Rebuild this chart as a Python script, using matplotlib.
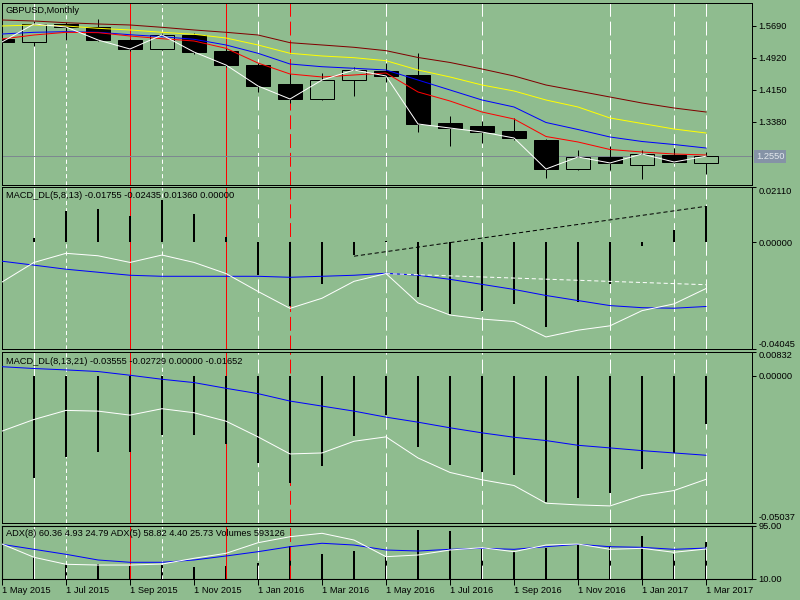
import matplotlib
matplotlib.use("Agg")
import matplotlib.pyplot as plt
from matplotlib.patches import Rectangle
import numpy as np

plt.rcParams['font.family'] = ['Liberation Sans', 'DejaVu Sans']
plt.rcParams['font.size'] = 6.7
plt.rcParams['lines.scale_dashes'] = False

BG = '#8fbc8f'
PX = 0.72  # one screen pixel in points

# monthly bars, 1 May 2015 .. 1 Mar 2017
months = ["1 May 2015", "1 Jun 2015", "1 Jul 2015", "1 Aug 2015", "1 Sep 2015", "1 Oct 2015",
          "1 Nov 2015", "1 Dec 2015", "1 Jan 2016", "1 Feb 2016", "1 Mar 2016", "1 Apr 2016",
          "1 May 2016", "1 Jun 2016", "1 Jul 2016", "1 Aug 2016", "1 Sep 2016", "1 Oct 2016",
          "1 Nov 2016", "1 Dec 2016", "1 Jan 2017", "1 Feb 2017", "1 Mar 2017"]

opens = [1.5370, 1.5298, 1.5731, 1.5659, 1.5346, 1.5129, 1.5466, 1.5081, 1.4744, 1.4287, 1.3926, 1.4383,
         1.4600, 1.4504, 1.3349, 1.3277, 1.3156, 1.2940, 1.2242, 1.2531, 1.2338, 1.2579, 1.2387]
highs = [1.5450, 1.5800, 1.5779, 1.5851, 1.5380, 1.5514, 1.5514, 1.5150, 1.4792, 1.4550, 1.4552, 1.4696,
         1.4792, 1.5033, 1.3517, 1.3385, 1.3469, 1.2964, 1.2699, 1.2795, 1.2699, 1.2747, 1.2651]
lows = [1.5250, 1.5200, 1.5346, 1.5330, 1.5090, 1.5105, 1.5009, 1.4700, 1.4095, 1.3830, 1.3902, 1.3998,
        1.4335, 1.3132, 1.2795, 1.2867, 1.2940, 1.2025, 1.2218, 1.2218, 1.2001, 1.2380, 1.2122]
closes = [1.5298, 1.5731, 1.5659, 1.5346, 1.5129, 1.5466, 1.5057, 1.4744, 1.4239, 1.3926, 1.4383, 1.4624,
          1.4480, 1.3325, 1.3228, 1.3132, 1.2988, 1.2242, 1.2531, 1.2387, 1.2603, 1.2411, 1.2550]

ma_maroon = [1.5827, 1.5803, 1.5762, 1.5731, 1.5707, 1.5651, 1.5587, 1.5531, 1.5466, 1.5281, 1.5226, 1.5170,
             1.5089, 1.4925, 1.4805, 1.4648, 1.4480, 1.4263, 1.4119, 1.3974, 1.3830, 1.3710, 1.3613]
ma_yellow = [1.5683, 1.5707, 1.5683, 1.5627, 1.5587, 1.5531, 1.5483, 1.5394, 1.5226, 1.5026, 1.4961, 1.4920,
             1.4848, 1.4624, 1.4456, 1.4263, 1.4119, 1.3902, 1.3734, 1.3469, 1.3337, 1.3204, 1.3108]
ma_blue = [1.5490, 1.5531, 1.5546, 1.5531, 1.5473, 1.5425, 1.5363, 1.5226, 1.5026, 1.4768, 1.4703, 1.4665,
           1.4624, 1.4383, 1.4143, 1.3902, 1.3734, 1.3361, 1.3192, 1.3012, 1.2904, 1.2831, 1.2747]
ma_red = [1.5370, 1.5466, 1.5531, 1.5522, 1.5442, 1.5377, 1.5322, 1.5146, 1.4792, 1.4528, 1.4456, 1.4504,
          1.4552, 1.4095, 1.3878, 1.3613, 1.3445, 1.3024, 1.2892, 1.2711, 1.2651, 1.2603, 1.2579]
last_price = 1.2550

# MACD_DL(5,8,13)
m1_main = [-0.01509, -0.00766, -0.00421, -0.00513, -0.00766, -0.00486, -0.00766, -0.01187, -0.01865, -0.02505,
           -0.02122, -0.01482, -0.01187, -0.02298, -0.02758, -0.02911, -0.03003, -0.03589, -0.03332, -0.03167,
           -0.02593, -0.02336, -0.01755]
m1_signal = [-0.00720, -0.00869, -0.01023, -0.01137, -0.01252, -0.01291, -0.01291, -0.01291, -0.01291, -0.01329,
             -0.01291, -0.01252, -0.01176, -0.01252, -0.01406, -0.01597, -0.01789, -0.02018, -0.02210, -0.02401,
             -0.02480, -0.02500, -0.02435]
m1_hist = [np.nan, 0.00176, 0.01199, 0.01275, 0.01007, 0.01582, 0.01084, 0.00215, -0.01226, -0.02401,
           -0.01597, -0.00490, 0.00040, -0.02080, -0.02720, -0.02620, -0.02340, -0.03200, -0.02270, -0.01570,
           -0.00150, 0.00470, 0.01360]
# divergence lines (start month, end month, values)
m1_hist_trend = (11, 22, -0.0053, 0.0136)
m1_main_trend = (12, 22, -0.0119, -0.0161)

# MACD_DL(8,13,21)
m2_main = [-0.01900, -0.01501, -0.01190, -0.01214, -0.01352, -0.01132, -0.01270, -0.01559, -0.02098, -0.02684,
           -0.02650, -0.02249, -0.02098, -0.02822, -0.03319, -0.03571, -0.03767, -0.04375, -0.04433, -0.04468,
           -0.04112, -0.03940, -0.03555]
m2_signal = [0.00310, 0.00248, 0.00200, 0.00145, 0.00017, -0.00121, -0.00235, -0.00431, -0.00614, -0.00869,
             -0.01042, -0.01214, -0.01421, -0.01594, -0.01787, -0.01960, -0.02111, -0.02225, -0.02387, -0.02477,
             -0.02570, -0.02650, -0.02729]
m2_hist = [np.nan, -0.0351, -0.0280, -0.0263, -0.0263, -0.0202, -0.0202, -0.0233, -0.0300, -0.0368, -0.0311,
           -0.0208, -0.0135, -0.0246, -0.0305, -0.0332, -0.0342, -0.0435, -0.0420, -0.0403, -0.0320, -0.0265,
           -0.01652]

# ADX + volumes
adx_white = [65.3, 44.0, 32.8, 31.6, 31.6, 33.2, 42.4, 50.4, 67.4, 77.0, 82.5, 71.7, 45.0, 47.7, 55.7, 59.4,
             53.0, 63.7, 65.3, 56.8, 58.4, 52.0, 57.3]
adx_blue = [64.8, 56.8, 48.8, 39.7, 36.0, 36.0, 39.7, 46.1, 53.0, 61.0, 66.5, 63.7, 55.7, 54.1, 56.8, 58.4,
            56.8, 61.0, 64.8, 61.0, 60.0, 56.8, 58.82]
volumes = [np.nan, 341000, 236000, 236000, 208000, 220000, 181000, 197000, 245000, 529000, 396000, 449000,
           341000, 781000, 769000, 476000, 422000, 486000, 540000, 529000, 678000, 396000, 593126]

# vertical marker lines by month index
white_solid = [1]
white_short = [2, 5]
white_long = [8, 12, 15, 19, 21, 22]
red_solid = [4, 7]
red_long = [9]

x = np.arange(len(months))
W, H = 800.0, 600.0
L, R = 2, 752
BAR_PX = 32.0  # horizontal pixels per month


def pane(top, bot):
    ax = fig.add_axes([L / W, 1 - bot / H, (R - L) / W, (bot - top) / H])
    ax.set_facecolor(BG)
    for s in ax.spines.values():
        s.set_color('black')
        s.set_linewidth(PX)
    ax.set_xlim(-0.0, (R - L) / BAR_PX)
    ax.yaxis.tick_right()
    ax.tick_params(axis='y', length=3, width=PX, pad=1.6, direction='out', colors='black')
    ax.tick_params(axis='x', length=0, labelbottom=False)
    for i in white_solid:
        ax.axvline(i, color='white', lw=PX, zorder=1, snap=True)
    for i in white_short:
        ax.axvline(i, color='white', lw=PX, ls=(0, (3, 2.2)), zorder=1, snap=True)
    for i in white_long:
        ax.axvline(i, color='white', lw=PX, ls=(0, (10, 3.5)), zorder=1, snap=True)
    for i in red_solid:
        ax.axvline(i, color='#ff0000', lw=PX, zorder=1, snap=True)
    for i in red_long:
        ax.axvline(i, color='#ff0000', lw=PX, ls=(0, (10, 3.5)), zorder=1, snap=True)
    return ax


def header(ax, txt, dy):
    ax.annotate(txt, xy=(0, 1), xycoords='axes fraction', xytext=(4, -dy),
                textcoords='offset pixels', ha='left', va='center', zorder=10)


def edge_labels(ax, ticks, fmt):
    ax.set_yticks(ticks, [fmt.format(t) for t in ticks])
    labs = ax.get_yticklabels()
    labs[0].set_va('bottom')
    labs[-1].set_va('top')


fig = plt.figure(figsize=(8, 6), dpi=100, facecolor=BG)

# price pane
ax1 = pane(2.5, 184.5)
ax1.set_ylim(1.1869, 1.6248)
ax1.axhline(last_price, color='#7d8890', lw=PX, zorder=1, snap=True)
for i in x:
    ax1.vlines(i, lows[i], highs[i], color='black', lw=PX, zorder=2, snap=True)
    o, c = opens[i], closes[i]
    ax1.add_patch(Rectangle((i - 0.36, min(o, c)), 0.72, abs(c - o), snap=True,
                            facecolor='black' if c < o else BG, edgecolor='black', lw=PX, zorder=3))
ax1.plot(x, ma_maroon, color='#800000', lw=PX, zorder=4)
ax1.plot(x, ma_yellow, color='#ffff00', lw=PX, zorder=4)
ax1.plot(x, ma_blue, color='#0000ff', lw=PX, zorder=4)
ax1.plot(x, ma_red, color='#ff0000', lw=PX, zorder=4)
ax1.plot(x, closes, color='white', lw=PX, zorder=5)
ax1.set_yticks([1.5690, 1.4920, 1.4150, 1.3380], ['1.5690', '1.4920', '1.4150', '1.3380'])
ax1.annotate(f'{last_price:.4f}', xy=(1, last_price), xycoords=ax1.get_yaxis_transform(),
             xytext=(4, 0), textcoords='offset pixels', ha='left', va='center', color='#e4e9ee',
             bbox=dict(boxstyle='square,pad=0.2', fc='#8593a6', ec='none'), annotation_clip=False)
header(ax1, 'GBPUSD,Monthly', 8)

# MACD 5,8,13
ax2 = pane(186.5, 349)
ax2.set_ylim(-0.04045, 0.02110)
ax2.vlines(x, 0, m1_hist, color='black', lw=2 * PX, zorder=3, snap=True)
ax2.plot(x, m1_signal, color='#0000ff', lw=PX, zorder=4)
ax2.plot(x, m1_main, color='white', lw=PX, zorder=5)
s, e, v0, v1 = m1_hist_trend
ax2.plot([s, e], [v0, v1], color='black', lw=PX, ls=(0, (3, 2)), zorder=4)
s, e, v0, v1 = m1_main_trend
ax2.plot([s, e], [v0, v1], color='white', lw=PX, ls=(0, (3, 2)), zorder=4)
edge_labels(ax2, [-0.04045, 0.0, 0.02110], '{:.5f}')
header(ax2, 'MACD_DL(5,8,13) -0.01755 -0.02435 0.01360 0.00000', 8.5)

# MACD 8,13,21
ax3 = pane(351.5, 522.5)
ax3.set_ylim(-0.05037, 0.00832)
ax3.vlines(x, 0, m2_hist, color='black', lw=2 * PX, zorder=3, snap=True)
ax3.plot(x, m2_signal, color='#0000ff', lw=PX, zorder=4)
ax3.plot(x, m2_main, color='white', lw=PX, zorder=5)
edge_labels(ax3, [-0.05037, 0.0, 0.00832], '{:.5f}')
header(ax3, 'MACD_DL(8,13,21) -0.03555 -0.02729 0.00000 -0.01652', 10)

# ADX + volumes
ax4 = pane(525.5, 578.5)
ax4.set_ylim(10, 95)
axv = ax4.twinx()
axv.set_ylim(0, 850000)
axv.set_yticks([])
axv.vlines(x, 0, volumes, color='black', lw=2 * PX, snap=True)
ax4.set_zorder(axv.get_zorder() + 1)
ax4.patch.set_visible(False)
ax4.plot(x, adx_blue, color='#0000ff', lw=PX, zorder=4)
ax4.plot(x, adx_white, color='white', lw=PX, zorder=5)
edge_labels(ax4, [10, 95], '{:.2f}')
ax4.yaxis.tick_right()
ax4.tick_params(axis='x', length=4, width=PX, pad=1.5, direction='out', labelbottom=True)
ax4.set_xticks(x[::2], months[::2], ha='left')
header(ax4, 'ADX(8) 60.36 4.93 24.79 ADX(5) 58.82 4.40 25.73 Volumes 593126', 8.5)

fig.savefig('out.png', dpi=100, facecolor=BG)
